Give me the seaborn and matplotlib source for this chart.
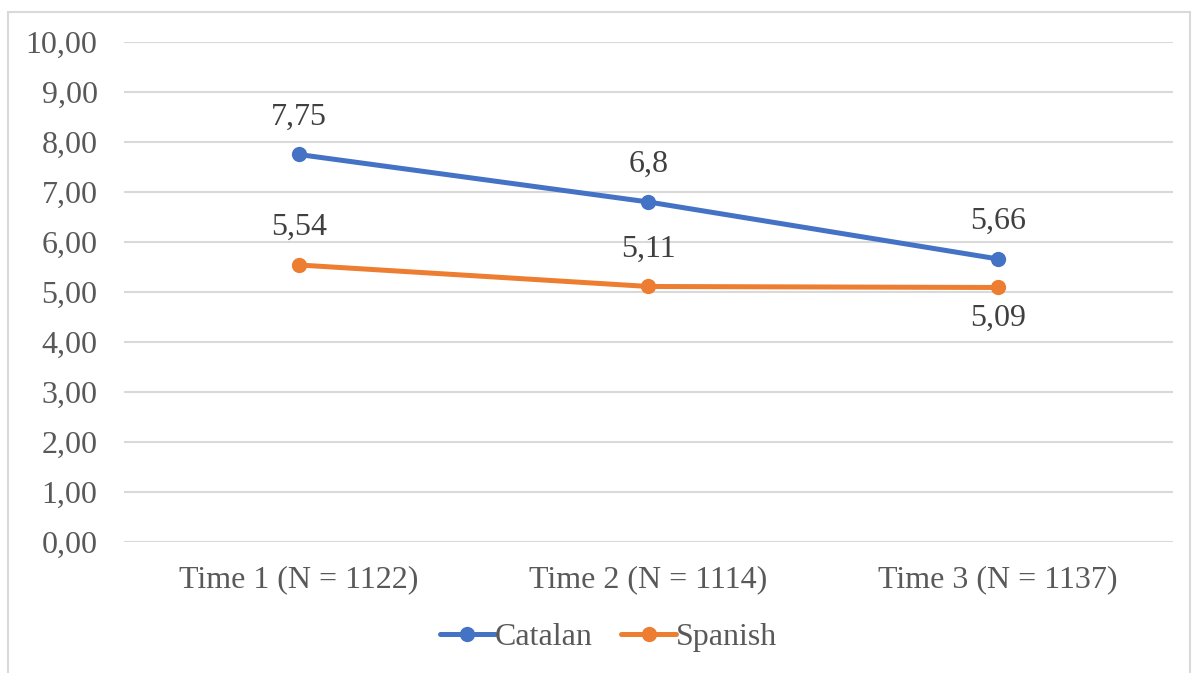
import pandas as pd
import matplotlib.pyplot as plt
import seaborn as sns
from matplotlib.patches import Rectangle
from matplotlib.ticker import FuncFormatter

# data
times = ['Time 1 (N = 1122)', 'Time 2 (N = 1114)', 'Time 3 (N = 1137)']
catalan = [7.75, 6.8, 5.66]
spanish = [5.54, 5.11, 5.09]
groups = ['Catalan', 'Spanish']


def fmt_comma(v):
    return str(v).replace('.', ',')


df = pd.DataFrame({
    'time': times * 2,
    'score': catalan + spanish,
    'language': [groups[0]] * 3 + [groups[1]] * 3,
})

sns.set_theme(style='white')
plt.rcParams['font.family'] = ['Liberation Serif', 'DejaVu Serif']

palette = {'Catalan': '#4472C4', 'Spanish': '#ED7D31'}
text_grey = '#595959'
label_grey = '#404040'
grid_grey = '#D9D9D9'
fs = 23

fig = plt.figure(figsize=(11.98, 6.73), dpi=100)
ax = fig.add_axes([0.1035, 0.1947, 0.8756, 0.7429])

sns.lineplot(data=df, x='time', y='score', hue='language', palette=palette,
             marker='o', markersize=11, markeredgewidth=0, linewidth=3.6,
             sort=False, ax=ax, legend=True)

ax.set_ylim(0, 10)
ax.set_xlim(-0.5, 2.5)
ax.set_yticks(range(0, 11))
ax.yaxis.set_major_formatter(FuncFormatter(lambda v, p: f'{v:.2f}'.replace('.', ',')))
ax.grid(axis='y', color=grid_grey, linewidth=1.5)
ax.set_axisbelow(True)
for s in ax.spines.values():
    s.set_visible(False)
ax.tick_params(axis='both', length=0, labelsize=fs, labelcolor=text_grey)
ax.tick_params(axis='y', pad=19)
ax.tick_params(axis='x', pad=17)
ax.set_xlabel('')
ax.set_ylabel('')

# data labels
for i, v in enumerate(catalan):
    ax.annotate(fmt_comma(v), xy=(i, v), xytext=(0, 27), textcoords='offset points',
                ha='center', va='center', fontsize=fs, color=label_grey)
for i, v in enumerate(spanish):
    dy = 27 if i < 2 else -22
    ax.annotate(fmt_comma(v), xy=(i, v), xytext=(0, dy), textcoords='offset points',
                ha='center', va='center', fontsize=fs, color=label_grey)

# legend at bottom
handles, labels = ax.get_legend_handles_labels()
ax.legend_.remove()
fig.legend(handles, labels, loc='center', bbox_to_anchor=(0.508, 0.053), ncol=2,
           frameon=False, fontsize=fs, labelcolor=text_grey, handlelength=1.72,
           handletextpad=0.0, columnspacing=0.9)

# chart border
fig.patches.append(Rectangle((8 / 1198, -0.05), 1182 / 1198, (673 - 12) / 673 + 0.05,
                             transform=fig.transFigure, fill=False,
                             edgecolor=grid_grey, linewidth=1.5))

fig.savefig('out.png', dpi=100)
